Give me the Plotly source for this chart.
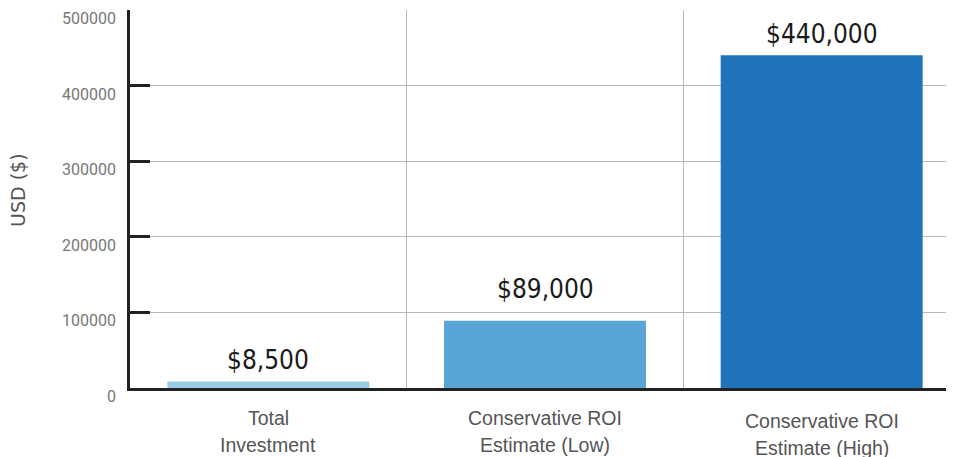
import plotly.graph_objects as go

categories = ["Total<br>Investment", "Conservative ROI<br>Estimate (Low)", "Conservative ROI<br>Estimate (High)"]
values = [8500, 89000, 440000]
value_labels = ["$8,500", "$89,000", "$440,000"]
bar_colors = ["#9ccbe6", "#5aa5d8", "#1f73bb"]
y_ticks = [0, 100000, 200000, 300000, 400000, 500000]

# layout constants (pixel offsets)
label_line_offsets = [30, 57]
label_extra = [0, 0, 3]
value_label_gaps = [5, 15, 4]

fig = go.Figure()
fig.add_trace(go.Bar(
    x=categories,
    y=values,
    marker=dict(color=bar_colors, line=dict(width=0)),
    width=0.73,
    hoverinfo="skip",
))

annotations = []
for i, cat in enumerate(categories):
    annotations.append(dict(
        text=value_labels[i], x=cat, xref="x", y=values[i], yref="y",
        xanchor="center", yanchor="bottom", yshift=value_label_gaps[i],
        showarrow=False,
        font=dict(family="DejaVu Sans Condensed, Roboto", size=26, color="#1a1a1a"),
    ))
    for j, line in enumerate(cat.split("<br>")):
        annotations.append(dict(
            text=line, x=cat, xref="x", y=0, yref="paper",
            xanchor="center", yanchor="middle",
            yshift=-(label_line_offsets[j] + label_extra[i]),
            showarrow=False,
            font=dict(family="Liberation Sans, Arial", size=19.5, color="#555555"),
        ))

annotations.append(dict(
    text="USD ($)", textangle=-90,
    xref="paper", yref="paper", x=(10 - 122) / 830, y=0.524,
    xanchor="center", yanchor="middle", showarrow=False,
    font=dict(family="DejaVu Sans", size=19, color="#555555"),
))

fig.update_layout(
    width=954, height=457,
    margin=dict(l=122, r=2, t=2, b=77),
    paper_bgcolor="white", plot_bgcolor="white",
    showlegend=False,
    xaxis=dict(
        type="category",
        tickson="boundaries",
        showgrid=True, gridcolor="#b8b8b8", gridwidth=1,
        showline=True, linecolor="#222222", linewidth=2.5,
        ticks="", showticklabels=False, automargin=False,
    ),
    yaxis=dict(
        range=[0, 500000],
        tickvals=y_ticks,
        ticktext=[str(v) for v in y_ticks],
        showgrid=True, gridcolor="#b8b8b8", gridwidth=1,
        showline=True, linecolor="#222222", linewidth=2.5,
        ticks="inside", ticklen=20, tickwidth=2.5, tickcolor="#222222",
        zeroline=False, automargin=False,
        tickfont=dict(family="Roboto", size=16, color="#777777"),
        ticklabelposition="outside bottom",
        ticklabelshift=-4,
        ticklabelstandoff=8,
    ),
    annotations=annotations,
)

fig.write_html("out.html")
